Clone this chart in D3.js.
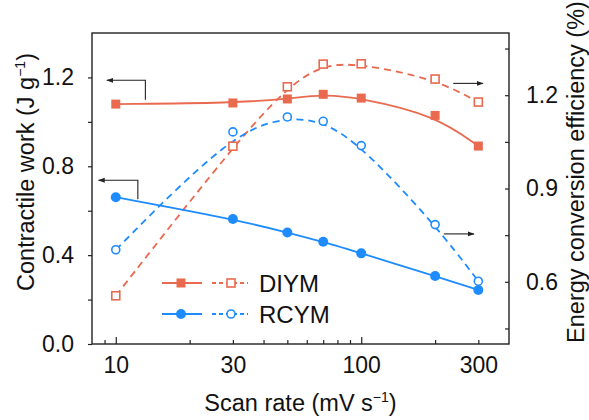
<!DOCTYPE html>
<html>
<head>
<meta charset="utf-8">
<script src="https://cdn.jsdelivr.net/npm/d3@7"></script>
<style>
  html, body { margin: 0; padding: 0; background: #fff; }
  svg text { font-family: "Liberation Sans", Arial, sans-serif; fill: #111; }
</style>
</head>
<body>
<svg id="chart" width="589" height="420"></svg>
<script>
// Scan rates (mV s^-1)
const scanRates = [10, 30, 50, 70, 100, 200, 300];

// Contractile work (J g^-1), left axis
const diymWork = [1.080, 1.085, 1.103, 1.124, 1.107, 1.029, 0.891];
const rcymWork = [0.661, 0.563, 0.502, 0.460, 0.408, 0.306, 0.243];

// Energy conversion efficiency (%), right axis
const diymEff = [0.555, 1.036, 1.227, 1.300, 1.301, 1.252, 1.178];
const rcymEff = [0.703, 1.082, 1.130, 1.116, 1.038, 0.784, 0.602];

// Axis ticks
const xLabelTicks = [10, 30, 100, 300];
const xMajorTicks = [10, 100];
const xMinorTicks = [9, 20, 30, 40, 50, 60, 70, 80, 90, 200, 300];
const leftTicks = [0, 0.2, 0.4, 0.6, 0.8, 1.0, 1.2];
const leftLabels = [0, 0.4, 0.8, 1.2];
const rightTicks = [0.45, 0.6, 0.75, 0.9, 1.05, 1.2, 1.35];
const rightLabels = [0.6, 0.9, 1.2];

const seriesNames = ["DIYM", "RCYM"];
const RED = "#E96A4F";
const BLUE = "#1E8CFF";

const svg = d3.select("#chart");
const m = { left: 92, right: 509, top: 33, bottom: 344 };

const x = d3.scaleLog().domain([8, 400]).range([m.left, m.right]);
const yL = d3.scaleLinear().domain([0, 1.4]).range([m.bottom, m.top]);
const yR = d3.scaleLinear().domain([0.4, 1.4]).range([m.bottom, m.top]);

const AX = "#222";
const TICK_FONT = 23;
const TITLE_FONT = 23.5;

// Frame
svg.append("rect")
  .attr("x", m.left).attr("y", m.top)
  .attr("width", m.right - m.left).attr("height", m.bottom - m.top)
  .attr("fill", "none").attr("stroke", AX).attr("stroke-width", 1.4);

function styleAxis(g) {
  g.select(".domain").remove();
  g.selectAll(".tick line").attr("stroke", AX).attr("stroke-width", 1.2);
  g.selectAll(".tick text").attr("font-size", TICK_FONT)
    .style("font-family", '"Liberation Sans", Arial, sans-serif').attr("fill", "#111");
}

// Bottom axis: inward ticks, labels separately
svg.append("g").attr("transform", `translate(0,${m.bottom})`)
  .call(d3.axisBottom(x).tickValues(xMinorTicks).tickSize(-4).tickFormat(""))
  .call(styleAxis);
svg.append("g").attr("transform", `translate(0,${m.bottom})`)
  .call(d3.axisBottom(x).tickValues(xMajorTicks).tickSize(-7).tickFormat(""))
  .call(styleAxis);
svg.append("g").attr("transform", `translate(0,${m.bottom})`)
  .call(d3.axisBottom(x).tickValues(xLabelTicks).tickSize(0).tickPadding(13)
    .tickFormat(d3.format("d")))
  .call(styleAxis);

// Left axis: outward ticks
svg.append("g").attr("transform", `translate(${m.left},0)`)
  .call(d3.axisLeft(yL).tickValues(leftTicks).tickSize(4).tickPadding(14)
    .tickFormat(d => leftLabels.some(v => Math.abs(v - d) < 1e-9) ? d3.format(".1f")(d) : ""))
  .call(styleAxis);

// Right axis: inward ticks
svg.append("g").attr("transform", `translate(${m.right},0)`)
  .call(d3.axisRight(yR).tickValues(rightTicks).tickSize(-4).tickPadding(17)
    .tickFormat(d => rightLabels.some(v => Math.abs(v - d) < 1e-9) ? d3.format(".1f")(d) : ""))
  .call(styleAxis);

// Axis titles
const xt = svg.append("text").attr("x", (m.left + m.right) / 2).attr("y", 411)
  .attr("text-anchor", "middle").attr("font-size", TITLE_FONT);
xt.append("tspan").text("Scan rate (mV s");
xt.append("tspan").attr("font-size", 14).attr("dy", -9).text("\u22121");
xt.append("tspan").attr("dy", 9).text(")");

const ylt = svg.append("text")
  .attr("transform", "translate(34,172) rotate(-90)")
  .attr("text-anchor", "middle").attr("font-size", TITLE_FONT);
ylt.append("tspan").text("Contractile work (J g");
ylt.append("tspan").attr("font-size", 14).attr("dy", -9).text("\u22121");
ylt.append("tspan").attr("dy", 9).text(")");

svg.append("text")
  .attr("transform", "translate(584,172) rotate(-90)")
  .attr("text-anchor", "middle").attr("font-size", TITLE_FONT)
  .text("Energy conversion efficiency (%)");

// Curves
const lineL = d3.line().x((d, i) => x(scanRates[i])).y(d => yL(d)).curve(d3.curveBasis);
const lineR = d3.line().x((d, i) => x(scanRates[i])).y(d => yR(d)).curve(d3.curveBasis);

const plot = svg.append("g");
function drawCurve(vals, gen, color, dashed) {
  plot.append("path").datum(vals).attr("d", gen)
    .attr("fill", "none").attr("stroke", color).attr("stroke-width", 1.8)
    .attr("stroke-dasharray", dashed ? "7,5" : null);
}
drawCurve(diymEff, lineR, RED, true);
drawCurve(rcymEff, lineR, BLUE, true);
drawCurve(diymWork, lineL, RED, false);
drawCurve(rcymWork, lineL, BLUE, false);

function square(g, cx, cy, s, color, filled) {
  g.append("rect").attr("x", cx - s / 2).attr("y", cy - s / 2)
    .attr("width", s).attr("height", s)
    .attr("fill", filled ? color : "#fff").attr("stroke", color)
    .attr("stroke-width", filled ? 0 : 1.6);
}
function circle(g, cx, cy, r, color, filled) {
  g.append("circle").attr("cx", cx).attr("cy", cy).attr("r", r)
    .attr("fill", filled ? color : "#fff").attr("stroke", color)
    .attr("stroke-width", filled ? 0 : 1.6);
}

scanRates.forEach((s, i) => {
  square(plot, x(s), yR(diymEff[i]), 8, RED, false);
  circle(plot, x(s), yR(rcymEff[i]), 4, BLUE, false);
  square(plot, x(s), yL(diymWork[i]), 9, RED, true);
  circle(plot, x(s), yL(rcymWork[i]), 5, BLUE, true);
});

// Arrows pointing to the relevant axis
const defs = svg.append("defs");
defs.append("marker").attr("id", "ah").attr("viewBox", "0 0 10 10")
  .attr("refX", 9).attr("refY", 5).attr("markerWidth", 7).attr("markerHeight", 7)
  .attr("markerUnits", "userSpaceOnUse").attr("orient", "auto")
  .append("path").attr("d", "M0,1.5 L10,5 L0,8.5 Z").attr("fill", "#222");

function arrow(pts) {
  svg.append("path").attr("d", d3.line()(pts))
    .attr("fill", "none").attr("stroke", "#222").attr("stroke-width", 1.1)
    .attr("marker-end", "url(#ah)");
}
arrow([[x(13.2), yL(1.099)], [x(13.2), yL(1.187)], [x(9.2), yL(1.187)]]);
arrow([[x(12.3), yL(0.652)], [x(12.3), yL(0.737)], [x(8.5), yL(0.737)]]);
arrow([[x(237), yR(1.238)], [x(313), yR(1.238)]]);
arrow([[x(217), yR(0.754)], [x(288), yR(0.754)]]);

// Legend
const legend = svg.append("g");
const rows = [
  { name: seriesNames[0], color: RED, shape: "square", y: 283 },
  { name: seriesNames[1], color: BLUE, shape: "circle", y: 314 }
];
rows.forEach(r => {
  legend.append("line").attr("x1", 162).attr("x2", 202).attr("y1", r.y).attr("y2", r.y)
    .attr("stroke", r.color).attr("stroke-width", 1.8);
  legend.append("line").attr("x1", 212).attr("x2", 248).attr("y1", r.y).attr("y2", r.y)
    .attr("stroke", r.color).attr("stroke-width", 1.8).attr("stroke-dasharray", "4,3");
  if (r.shape === "square") {
    square(legend, 181, r.y, 9, r.color, true);
    square(legend, 231, r.y, 8, r.color, false);
  } else {
    circle(legend, 181, r.y, 5, r.color, true);
    circle(legend, 231, r.y, 4, r.color, false);
  }
  legend.append("text").attr("x", 259).attr("y", r.y + 8.5)
    .attr("font-size", 24).text(r.name);
});
</script>
</body>
</html>
